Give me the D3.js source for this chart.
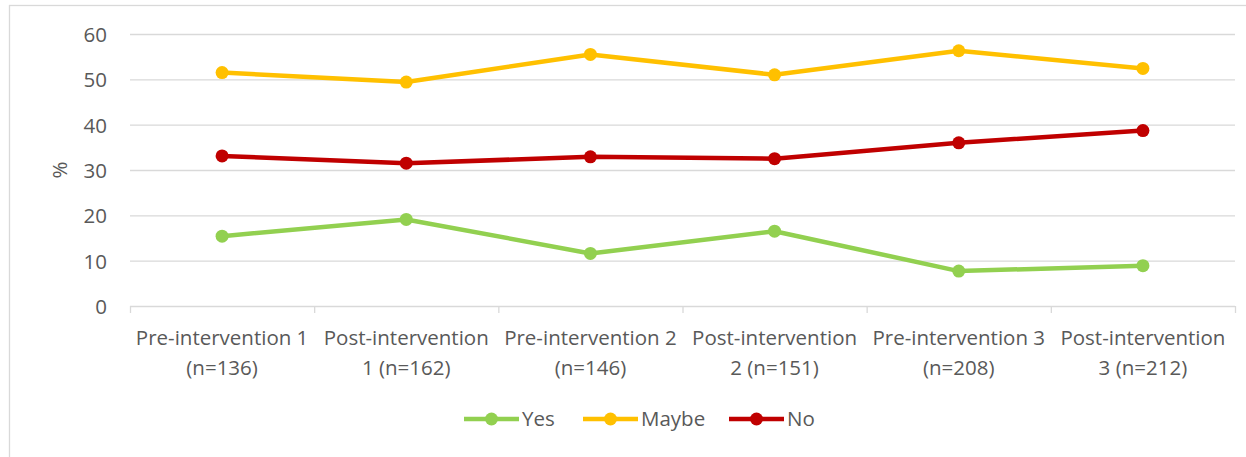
<!DOCTYPE html>
<html>
<head>
<meta charset="utf-8">
<script src="https://cdn.jsdelivr.net/npm/d3@7"></script>
<style>
  html, body { margin: 0; padding: 0; background: #fff; }
  svg { display: block; }
  text { font-family: "Open Sans", Lato, sans-serif; fill: #595959; }
</style>
</head>
<body>
<svg id="chart" width="1246" height="457"></svg>
<script>
// Share of responses per survey round
const categories = [
  ["Pre-intervention 1", "(n=136)"],
  ["Post-intervention", "1 (n=162)"],
  ["Pre-intervention 2", "(n=146)"],
  ["Post-intervention", "2 (n=151)"],
  ["Pre-intervention 3", "(n=208)"],
  ["Post-intervention", "3 (n=212)"]
];
const yesValues   = [15.4, 19.1, 11.6, 16.5, 7.7, 8.9];
const maybeValues = [51.5, 49.4, 55.5, 51.0, 56.3, 52.4];
const noValues    = [33.1, 31.5, 32.9, 32.5, 36.0, 38.7];
const yTicks = [0, 10, 20, 30, 40, 50, 60];

const series = [
  { name: "Yes",   values: yesValues,   color: "#92D050" },
  { name: "Maybe", values: maybeValues, color: "#FFC000" },
  { name: "No",    values: noValues,    color: "#C00000" }
];

const FONT = 20.5;
const svg = d3.select("#chart");
const W = 1246, H = 457;
const plot = { left: 130, right: 1235, top: 34, bottom: 306 };

// chart area border
svg.append("rect")
  .attr("x", 9.5).attr("y", 5.5)
  .attr("width", W + 20).attr("height", H + 20)
  .attr("fill", "none").attr("stroke", "#d9d9d9").attr("stroke-width", 1.3);

const x = d3.scaleBand()
  .domain(d3.range(categories.length))
  .range([plot.left, plot.right])
  .padding(0);
const y = d3.scaleLinear().domain([0, 60]).range([plot.bottom, plot.top]);

// horizontal gridlines
svg.append("g")
  .selectAll("line")
  .data(yTicks.filter(t => t > 0))
  .join("line")
  .attr("x1", plot.left).attr("x2", plot.right)
  .attr("y1", d => y(d) + 0.5).attr("y2", d => y(d) + 0.5)
  .attr("stroke", "#d9d9d9").attr("stroke-width", 1.3);

// y axis labels
const yAxis = d3.axisLeft(y).tickValues(yTicks).tickSize(0).tickPadding(0);
const gy = svg.append("g").attr("transform", `translate(${107},0)`).call(yAxis);
gy.select(".domain").remove();
gy.selectAll("text")
  .style("font-family", "'Open Sans', Lato, sans-serif")
  .attr("font-size", FONT).attr("fill", "#595959")
  .attr("dy", "0.36em");

// x axis baseline with tick marks between categories
const xAxisG = svg.append("g");
xAxisG.append("line")
  .attr("x1", plot.left).attr("x2", plot.right)
  .attr("y1", plot.bottom + 0.5).attr("y2", plot.bottom + 0.5)
  .attr("stroke", "#d9d9d9").attr("stroke-width", 1.3);
const boundaries = d3.range(categories.length + 1).map(i =>
  i < categories.length ? x(i) : x(categories.length - 1) + x.bandwidth());
xAxisG.selectAll("line.tick")
  .data(boundaries)
  .join("line")
  .attr("class", "tick")
  .attr("x1", d => d + 0.5).attr("x2", d => d + 0.5)
  .attr("y1", plot.bottom).attr("y2", plot.bottom + 7)
  .attr("stroke", "#d9d9d9").attr("stroke-width", 1.3);

// category labels (two lines each)
const labels = xAxisG.selectAll("text.cat")
  .data(categories)
  .join("text")
  .attr("class", "cat")
  .attr("text-anchor", "middle")
  .attr("font-size", FONT)
  .attr("x", (d, i) => x(i) + x.bandwidth() / 2)
  .attr("y", 345);
labels.selectAll("tspan")
  .data(d => d)
  .join("tspan")
  .attr("x", function () { return d3.select(this.parentNode).attr("x"); })
  .attr("dy", (d, i) => i === 0 ? 0 : 30)
  .text(d => d);

// y axis title
svg.append("text")
  .attr("transform", "translate(67,170) rotate(-90)")
  .attr("text-anchor", "middle")
  .attr("font-size", FONT)
  .text("%");

// series lines and markers
const line = d3.line()
  .x((d, i) => x(i) + x.bandwidth() / 2)
  .y(d => y(d));

const sg = svg.append("g").selectAll("g").data(series).join("g");
sg.append("path")
  .attr("d", d => line(d.values))
  .attr("fill", "none")
  .attr("stroke", d => d.color)
  .attr("stroke-width", 4.5)
  .attr("stroke-linejoin", "round");
sg.selectAll("circle")
  .data(d => d.values.map(v => ({ v, color: d.color })))
  .join("circle")
  .attr("cx", (d, i) => x(i) + x.bandwidth() / 2)
  .attr("cy", d => y(d.v))
  .attr("r", 6.5)
  .attr("fill", d => d.color);

// legend
const legendX = [464, 583, 729];
const lg = svg.append("g").selectAll("g").data(series).join("g")
  .attr("transform", (d, i) => `translate(${legendX[i]},419)`);
lg.append("line")
  .attr("x1", 0).attr("x2", 55)
  .attr("stroke", d => d.color).attr("stroke-width", 4.5);
lg.append("circle")
  .attr("cx", 27.5).attr("cy", 0).attr("r", 6.5)
  .attr("fill", d => d.color);
lg.append("text")
  .attr("x", 58).attr("y", 0).attr("dy", "0.36em")
  .attr("font-size", FONT)
  .text(d => d.name);
</script>
</body>
</html>
